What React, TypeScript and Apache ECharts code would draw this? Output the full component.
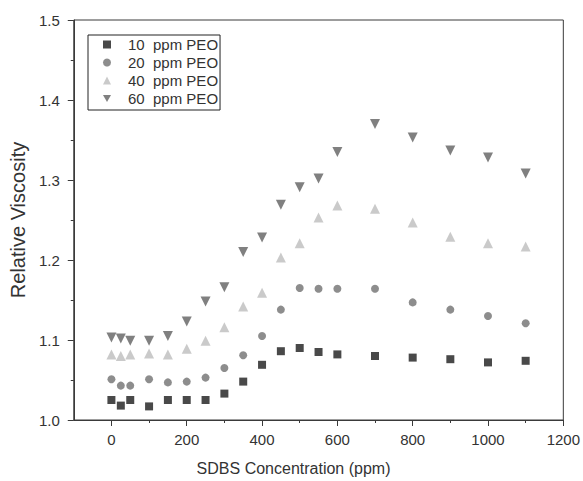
import React, { useEffect, useRef } from "react";
import * as echarts from "echarts";

const concentrations = [0, 25, 50, 100, 150, 200, 250, 300, 350, 400, 450, 500, 550, 600, 700, 800, 900, 1000, 1100];
const peo10 = [1.025, 1.018, 1.025, 1.017, 1.025, 1.025, 1.025, 1.033, 1.048, 1.069, 1.086, 1.09, 1.085, 1.082, 1.08, 1.078, 1.076, 1.072, 1.074];
const peo20 = [1.051, 1.043, 1.043, 1.051, 1.047, 1.048, 1.053, 1.065, 1.081, 1.105, 1.138, 1.165, 1.164, 1.164, 1.164, 1.147, 1.138, 1.13, 1.121];
const peo40 = [1.082, 1.08, 1.082, 1.083, 1.082, 1.089, 1.099, 1.116, 1.142, 1.159, 1.203, 1.221, 1.253, 1.268, 1.264, 1.247, 1.229, 1.221, 1.217];
const peo60 = [1.103, 1.102, 1.099, 1.099, 1.105, 1.123, 1.148, 1.166, 1.21, 1.228, 1.269, 1.291, 1.302, 1.335, 1.37, 1.353, 1.337, 1.328, 1.308];
const seriesNames = ["10  ppm PEO", "20  ppm PEO", "40  ppm PEO", "60  ppm PEO"];
const xMajorTicks = [0, 200, 400, 600, 800, 1000, 1200];
const xMinorTicks = [100, 300, 500, 700, 900, 1100];

const DOWN_TRI = "path://M0,0 L10,0 L5,9 Z";

export default function App() {
  const ref = useRef<HTMLDivElement>(null);
  useEffect(() => {
    if (!ref.current) return;
    const chart = echarts.init(ref.current, null, { renderer: "svg" });
    const pair = (ys: number[]) => concentrations.map((x, i) => [x, ys[i]]);
    const font = "Liberation Sans, Arial, sans-serif";
    const axisColor = "#3a3a3a";
    const textColor = "#333";
    chart.setOption({
      animation: false,
      backgroundColor: "#fff",
      textStyle: { fontFamily: font },
      grid: { left: 70, right: 18, top: 20, bottom: 61, show: true, borderColor: axisColor, borderWidth: 1 },
      legend: {
        orient: "vertical",
        left: 88,
        top: 35,
        borderColor: "#222",
        borderWidth: 1,
        padding: [2, 2, 4, 15],
        itemGap: 3,
        itemWidth: 8,
        itemHeight: 8,
        textStyle: { fontSize: 15, color: textColor, fontFamily: font, padding: [0, 0, 0, 12] },
        data: [
          { name: seriesNames[0], icon: "rect" },
          { name: seriesNames[1], icon: "circle" },
          { name: seriesNames[2], icon: "triangle" },
          { name: seriesNames[3], icon: DOWN_TRI },
        ],
      },
      xAxis: [
        {
          type: "value",
          min: -100,
          max: 1200,
          interval: 100,
          name: "SDBS Concentration (ppm)",
          nameLocation: "middle",
          nameGap: 40,
          nameTextStyle: { fontSize: 16, color: textColor, padding: [0, 50, 0, 0] },
          axisLine: { show: true, onZero: false, lineStyle: { color: axisColor } },
          axisTick: { show: true, inside: false, length: 3, customValues: xMinorTicks, lineStyle: { color: axisColor } },
          splitLine: { show: false },
          axisLabel: {
            fontSize: 15,
            color: textColor,
            margin: 12,
            customValues: xMajorTicks,
            formatter: (v: number) => (v >= 0 && v % 200 === 0 ? String(v) : ""),
          },
        },
        {
          type: "value",
          min: -100,
          max: 1200,
          interval: 100,
          position: "bottom",
          axisLine: { show: false, onZero: false },
          axisTick: { show: true, inside: false, length: 6, customValues: xMajorTicks, lineStyle: { color: axisColor } },
          axisLabel: { show: false },
          splitLine: { show: false },
        },
      ],
      yAxis: {
        type: "value",
        min: 1.0,
        max: 1.5,
        interval: 0.1,
        name: "Relative Viscosity",
        nameLocation: "middle",
        nameGap: 38,
        nameTextStyle: { fontSize: 20, color: textColor },
        axisLine: { show: true, onZero: false, lineStyle: { color: axisColor } },
        axisTick: { show: true, inside: false, length: 6, lineStyle: { color: axisColor } },
        minorTick: { show: true, splitNumber: 2, length: 3, lineStyle: { color: axisColor } },
        splitLine: { show: false },
        axisLabel: {
          fontSize: 15,
          color: textColor,
          margin: 14,
          formatter: (v: number) => v.toFixed(1),
        },
      },
      series: [
        { name: seriesNames[0], type: "scatter", symbol: "rect", symbolSize: 8, itemStyle: { color: "#1c1c1c" }, data: pair(peo10) },
        { name: seriesNames[1], type: "scatter", symbol: "circle", symbolSize: 8, itemStyle: { color: "#707070" }, data: pair(peo20) },
        { name: seriesNames[2], type: "scatter", symbol: "triangle", symbolSize: 10, itemStyle: { color: "#bdbdbd" }, data: pair(peo40) },
        { name: seriesNames[3], type: "scatter", symbol: "triangle", symbolRotate: 180, symbolSize: 10, itemStyle: { color: "#606060" }, data: pair(peo60) },
      ],
    });
    return () => chart.dispose();
  }, []);
  return <div ref={ref} style={{ width: 583, height: 481, position: "absolute", left: 0, top: 0 }} />;
}
